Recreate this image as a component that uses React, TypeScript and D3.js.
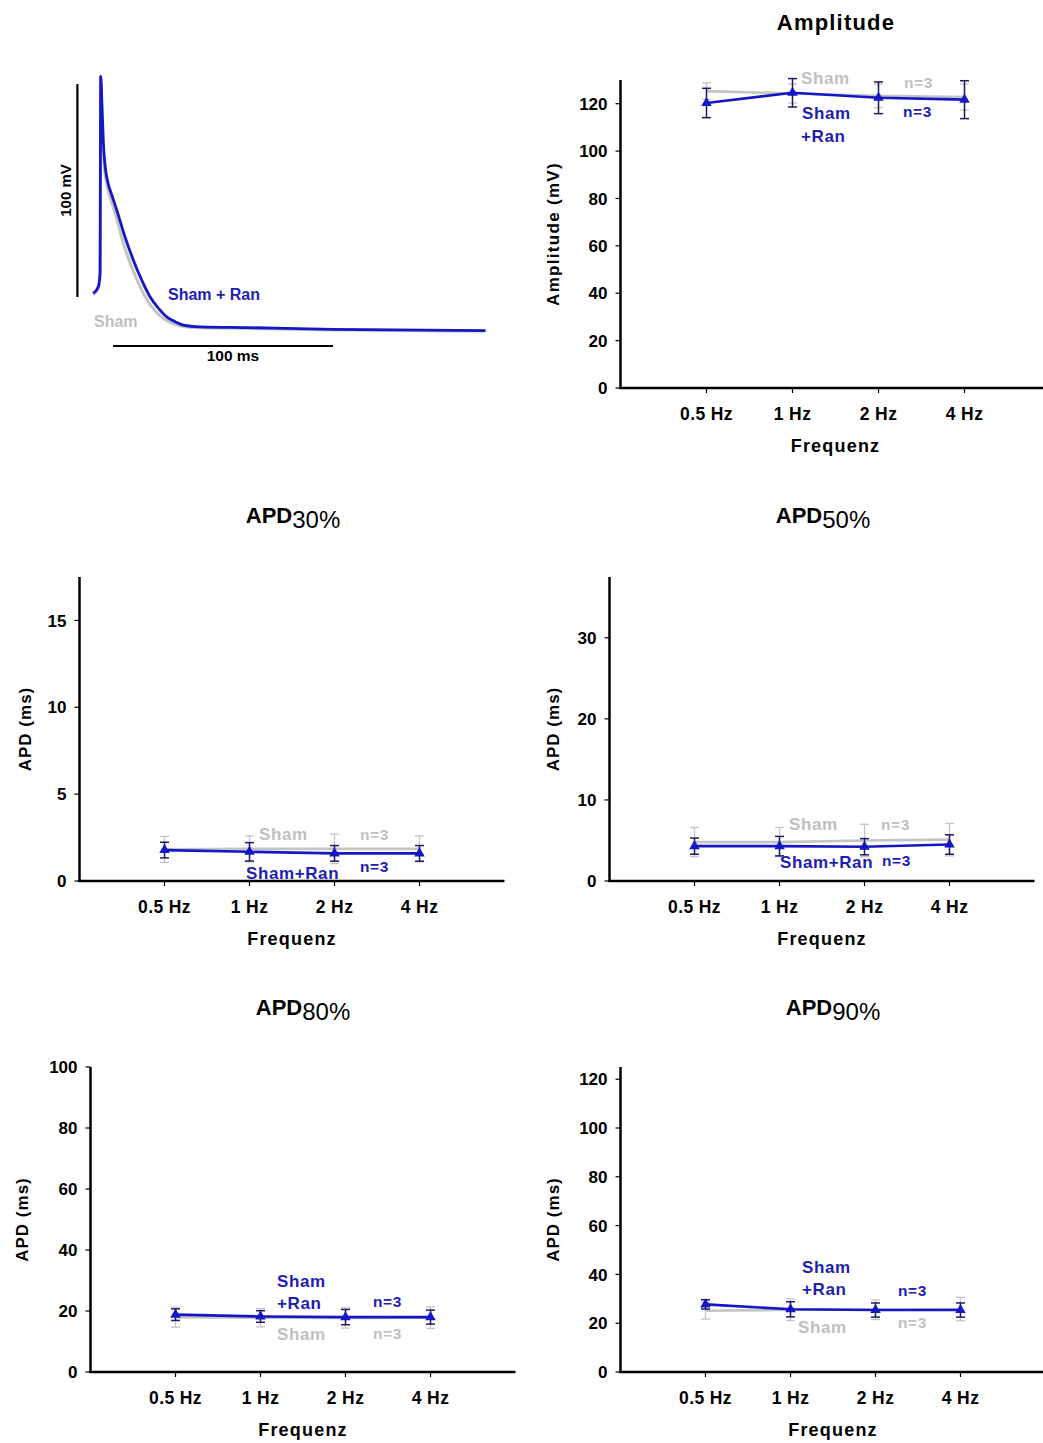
import React from "react";
import * as d3 from "d3";

// ---------- DATA ----------
const categories = ["0.5 Hz", "1 Hz", "2 Hz", "4 Hz"];

// Amplitude (mV)
const ampSham = [125.3, 124.3, 123.3, 122.8];
const ampShamErr = [3.5, 4.0, 5.0, 5.5];
const ampRan = [120.3, 124.6, 122.5, 121.7];
const ampRanErr = [6.2, 6.0, 6.7, 8.0];

// APD30 (ms)
const apd30Sham = [1.82, 1.85, 1.85, 1.85];
const apd30ShamErr = [0.75, 0.75, 0.85, 0.75];
const apd30Ran = [1.78, 1.68, 1.59, 1.59];
const apd30RanErr = [0.45, 0.53, 0.45, 0.45];

// APD50 (ms)
const apd50Sham = [4.8, 4.8, 5.0, 5.1];
const apd50ShamErr = [1.8, 1.8, 2.0, 2.0];
const apd50Ran = [4.3, 4.3, 4.23, 4.5];
const apd50RanErr = [1.0, 1.2, 1.0, 1.2];

// APD80 (ms)
const apd80Sham = [18.0, 17.8, 17.7, 17.8];
const apd80ShamErr = [3.3, 3.0, 3.3, 3.5];
const apd80Ran = [18.8, 18.2, 18.0, 18.0];
const apd80RanErr = [1.9, 1.9, 2.5, 2.3];

// APD90 (ms)
const apd90Sham = [25.1, 25.5, 25.5, 25.8];
const apd90ShamErr = [3.4, 4.4, 4.0, 4.8];
const apd90Ran = [27.7, 25.7, 25.4, 25.4];
const apd90RanErr = [1.9, 3.1, 2.9, 2.9];

// Action potential traces (time ms, voltage mV)
const traceRanTime = [-0.8, 1.5, 2.3, 2.6, 3.2, 3.8, 4.6, 5.8, 7.6, 9.9, 13.6, 17.4, 21.2, 25, 28.8, 32.6, 36.4, 40.1, 47.7, 70.5, 108.2, 177.5];
const traceRanV = [-62.8, -59.7, -53.2, 39.2, 25, 8, -3, -10.5, -16.5, -23.7, -36.2, -47.1, -56.5, -64.4, -69.7, -73.8, -76.1, -77.7, -78.5, -78.9, -79.7, -80.3];
const traceShamTime = [-0.8, 1.5, 2.3, 2.6, 3.1, 3.7, 4.4, 5.6, 7.3, 9.4, 12.8, 16.5, 20.2, 24, 27.8, 31.6, 35.5, 39.5, 47, 70, 108, 177.5];
const traceShamV = [-63.5, -60.5, -54, 36, 22, 5, -5, -12.5, -19, -26, -39, -50, -59, -66.5, -71.5, -75, -77, -78.3, -79, -79.3, -80, -80.5];

// ---------- STYLE ----------
const FONT = "'Liberation Sans', Arial, sans-serif";
const BLUE = "#1616c4";
const BLUE_TEXT = "#1e1eb0";
const BLUE_ERR = "#1c1c5a";
const GRAY = "#c4c4c4";
const GRAY_TEXT = "#c0c0c0";

type Label = { text: string; x: number; y: number; color: string; size?: number };

type PanelProps = {
  x0: number; yB: number; yT: number; max: number; ticks: number[]; bw: number;
  sham: number[]; shamErr: number[]; ran: number[]; ranErr: number[];
  title: string; sub?: string; titleX: number; titleY: number; titleSpacing?: number;
  yLabel: string; yLabelX: number; yLabelSpacing?: number;
  labels: Label[];
};

function Panel(p: PanelProps) {
  const xEnd = p.x0 + 5 * p.bw;
  const x = d3.scalePoint<string>().domain(categories).range([p.x0 + p.bw, p.x0 + 4 * p.bw]);
  const y = d3.scaleLinear().domain([0, p.max]).range([p.yB, p.yT]);
  const line = d3.line<number>().x((_, i) => x(categories[i]) as number).y((d) => y(d));
  const cap = 4.5;
  const errBars = (vals: number[], errs: number[], color: string, w: number) =>
    vals.map((v, i) => {
      const cx = x(categories[i]) as number;
      const top = y(v + errs[i]);
      const bot = y(v - errs[i]);
      return (
        <g key={i} stroke={color} strokeWidth={w}>
          <line x1={cx} x2={cx} y1={top} y2={bot} />
          <line x1={cx - cap} x2={cx + cap} y1={top} y2={top} />
          <line x1={cx - cap} x2={cx + cap} y1={bot} y2={bot} />
        </g>
      );
    });
  const tri = d3.symbol().type(d3.symbolTriangle).size(48)();
  const midY = (p.yT + p.yB) / 2;
  return (
    <g fontFamily={FONT} fontWeight="bold">
      {/* title */}
      <text x={p.titleX} y={p.titleY} textAnchor="middle" fontSize={22} fill="#000" letterSpacing={p.titleSpacing ?? 0}>
        {p.title}
        {p.sub && (
          <tspan fontWeight="normal" fontSize={24} dy={5}>{p.sub}</tspan>
        )}
      </text>
      {/* y label */}
      <text
        transform={`translate(${p.yLabelX},${midY}) rotate(-90)`}
        textAnchor="middle" dy="0.35em" fontSize={17} letterSpacing={p.yLabelSpacing ?? 1} fill="#000"
      >
        {p.yLabel}
      </text>
      {/* y ticks */}
      {p.ticks.map((t) => (
        <g key={t}>
          <line x1={p.x0 - 5} x2={p.x0} y1={y(t)} y2={y(t)} stroke="#000" strokeWidth={1.2} />
          <text x={p.x0 - 13} y={y(t)} dy="0.36em" textAnchor="end" fontSize={17} fill="#000">{t}</text>
        </g>
      ))}
      {/* x ticks + labels */}
      {categories.map((c) => (
        <g key={c}>
          <line x1={x(c)} x2={x(c)} y1={p.yB} y2={p.yB + 5} stroke="#000" strokeWidth={1.2} />
          <text x={x(c)} y={p.yB + 32} textAnchor="middle" fontSize={17.5} letterSpacing={0.4} fill="#000">{c}</text>
        </g>
      ))}
      <text x={p.x0 + 2.5 * p.bw} y={p.yB + 64} textAnchor="middle" fontSize={18} letterSpacing={1.2} fill="#000">Frequenz</text>
      {/* series */}
      {errBars(p.sham, p.shamErr, GRAY, 1.3)}
      <path d={line(p.sham) || ""} fill="none" stroke={GRAY} strokeWidth={2.6} />
      {errBars(p.ran, p.ranErr, BLUE_ERR, 1.5)}
      <path d={line(p.ran) || ""} fill="none" stroke={BLUE} strokeWidth={2.6} />
      {p.ran.map((v, i) => (
        <path key={i} d={tri || ""} transform={`translate(${x(categories[i])},${y(v)})`} fill={BLUE} />
      ))}
      {/* axes */}
      <line x1={p.x0} x2={p.x0} y1={p.yT} y2={p.yB + 1} stroke="#000" strokeWidth={2.5} />
      <line x1={p.x0 - 1} x2={xEnd} y1={p.yB} y2={p.yB} stroke="#000" strokeWidth={2.5} />
      {/* annotations */}
      {p.labels.map((l, i) => (
        <text key={i} x={l.x} y={l.y} fontSize={l.size ?? 17} fill={l.color} letterSpacing={0.6}>{l.text}</text>
      ))}
    </g>
  );
}

function Trace() {
  const t = d3.scaleLinear().domain([0, 100]).range([95, 315]);
  const v = d3.scaleLinear().domain([-80, 20]).range([330, 117]);
  const mk = (ts: number[], vs: number[]) =>
    d3.line<number>().x((d) => t(d)).y((_, i) => v(vs[i])).curve(d3.curveMonotoneX)(ts) || "";
  return (
    <g fontFamily={FONT} fontWeight="bold">
      {/* scale bars */}
      <line x1={t(-8)} x2={t(-8)} y1={v(35.5)} y2={v(-64.5)} stroke="#000" strokeWidth={2.2} />
      <line x1={t(8.2)} x2={t(108.2)} y1={v(-87.5)} y2={v(-87.5)} stroke="#000" strokeWidth={2.2} />
      <text x={t(62.7)} y={v(-87.5) + 15} textAnchor="middle" fontSize={15.5} fill="#000">100 ms</text>
      <text transform={`translate(${t(-8) - 12},${(v(35.5) + v(-64.5)) / 2}) rotate(-90)`} textAnchor="middle" dy="0.35em" fontSize={15} fill="#000">100 mV</text>
      {/* traces */}
      <path d={mk(traceShamTime, traceShamV)} fill="none" stroke={GRAY} strokeWidth={3} />
      <path d={mk(traceRanTime, traceRanV)} fill="none" stroke={BLUE} strokeWidth={2.8} />
      <text x={168} y={300} fontSize={16} fill={BLUE_TEXT}>Sham + Ran</text>
      <text x={94} y={327} fontSize={16} fill={GRAY_TEXT}>Sham</text>
    </g>
  );
}

export default function App() {
  return (
    <svg width={1043} height={1443} style={{ position: "absolute", left: 0, top: 0, background: "#fff" }}>
      <rect width={1043} height={1443} fill="#fff" />
      <Trace />
      <Panel
        x0={620.5} yB={388} yT={80} max={130} ticks={[0, 20, 40, 60, 80, 100, 120]} bw={86}
        sham={ampSham} shamErr={ampShamErr} ran={ampRan} ranErr={ampRanErr}
        title="Amplitude" titleX={836} titleY={30} titleSpacing={1.2}
        yLabel="Amplitude (mV)" yLabelX={553} yLabelSpacing={1.3}
        labels={[
          { text: "Sham", x: 801, y: 84, color: GRAY_TEXT },
          { text: "n=3", x: 904, y: 88, color: GRAY_TEXT, size: 15.5 },
          { text: "Sham", x: 802, y: 119, color: BLUE_TEXT },
          { text: "+Ran", x: 801, y: 142, color: BLUE_TEXT },
          { text: "n=3", x: 903, y: 117, color: BLUE_TEXT, size: 15.5 },
        ]}
      />
      <Panel
        x0={79.5} yB={881} yT={577} max={17.5} ticks={[0, 5, 10, 15]} bw={85}
        sham={apd30Sham} shamErr={apd30ShamErr} ran={apd30Ran} ranErr={apd30RanErr}
        title="APD" sub="30%" titleX={293} titleY={523}
        yLabel="APD (ms)" yLabelX={25}
        labels={[
          { text: "Sham", x: 259, y: 840, color: GRAY_TEXT },
          { text: "n=3", x: 360, y: 840, color: GRAY_TEXT, size: 15.5 },
          { text: "Sham+Ran", x: 246, y: 879, color: BLUE_TEXT },
          { text: "n=3", x: 360, y: 872, color: BLUE_TEXT, size: 15.5 },
        ]}
      />
      <Panel
        x0={609.5} yB={881} yT={577} max={37.5} ticks={[0, 10, 20, 30]} bw={85}
        sham={apd50Sham} shamErr={apd50ShamErr} ran={apd50Ran} ranErr={apd50RanErr}
        title="APD" sub="50%" titleX={823} titleY={523}
        yLabel="APD (ms)" yLabelX={553}
        labels={[
          { text: "Sham", x: 789, y: 830, color: GRAY_TEXT },
          { text: "n=3", x: 881, y: 830, color: GRAY_TEXT, size: 15.5 },
          { text: "Sham+Ran", x: 780, y: 868, color: BLUE_TEXT },
          { text: "n=3", x: 882, y: 866, color: BLUE_TEXT, size: 15.5 },
        ]}
      />
      <Panel
        x0={90.5} yB={1372} yT={1067} max={100} ticks={[0, 20, 40, 60, 80, 100]} bw={85}
        sham={apd80Sham} shamErr={apd80ShamErr} ran={apd80Ran} ranErr={apd80RanErr}
        title="APD" sub="80%" titleX={303} titleY={1015}
        yLabel="APD (ms)" yLabelX={22}
        labels={[
          { text: "Sham", x: 277, y: 1287, color: BLUE_TEXT },
          { text: "+Ran", x: 277, y: 1309, color: BLUE_TEXT },
          { text: "n=3", x: 373, y: 1307, color: BLUE_TEXT, size: 15.5 },
          { text: "Sham", x: 277, y: 1340, color: GRAY_TEXT },
          { text: "n=3", x: 373, y: 1339, color: GRAY_TEXT, size: 15.5 },
        ]}
      />
      <Panel
        x0={620.5} yB={1372} yT={1067} max={125} ticks={[0, 20, 40, 60, 80, 100, 120]} bw={85}
        sham={apd90Sham} shamErr={apd90ShamErr} ran={apd90Ran} ranErr={apd90RanErr}
        title="APD" sub="90%" titleX={833} titleY={1015}
        yLabel="APD (ms)" yLabelX={553}
        labels={[
          { text: "Sham", x: 802, y: 1273, color: BLUE_TEXT },
          { text: "+Ran", x: 802, y: 1295, color: BLUE_TEXT },
          { text: "n=3", x: 898, y: 1296, color: BLUE_TEXT, size: 15.5 },
          { text: "Sham", x: 798, y: 1333, color: GRAY_TEXT },
          { text: "n=3", x: 898, y: 1328, color: GRAY_TEXT, size: 15.5 },
        ]}
      />
    </svg>
  );
}
